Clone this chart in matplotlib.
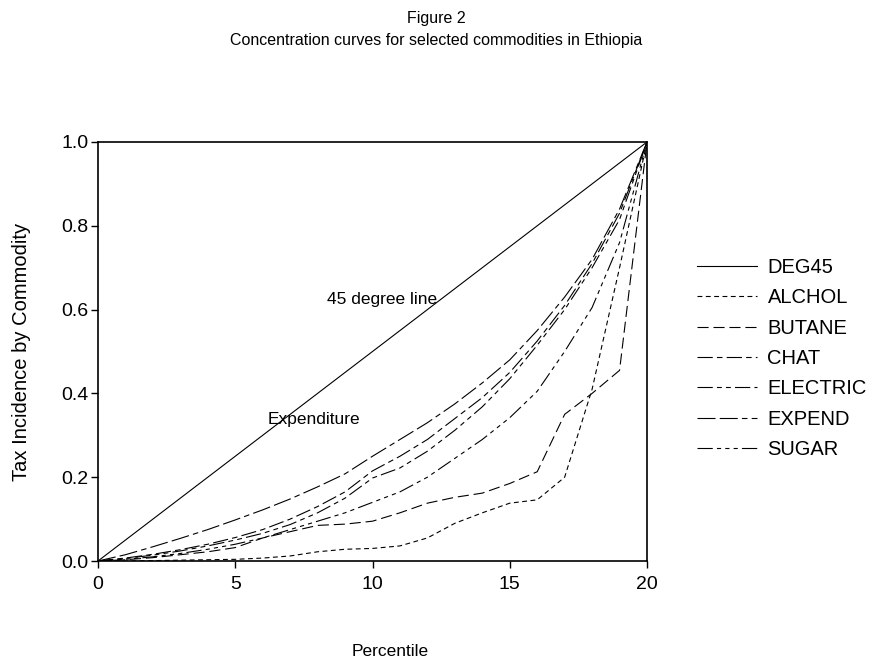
import matplotlib
matplotlib.use("Agg")
import matplotlib.pyplot as plt
import numpy as np

plt.rcParams['font.family'] = ['Liberation Sans', 'DejaVu Sans']
plt.rcParams['lines.scale_dashes'] = False

percentile = list(range(21))
deg45 = [i / 20 for i in range(21)]
alchol = [0, 0.0, 0.001, 0.002, 0.003, 0.004, 0.007, 0.012, 0.022, 0.028, 0.030,
          0.036, 0.055, 0.090, 0.115, 0.138, 0.146, 0.200, 0.410, 0.700, 1.0]
butane = [0, 0.003, 0.008, 0.015, 0.022, 0.032, 0.055, 0.070, 0.085, 0.088, 0.095,
          0.115, 0.138, 0.152, 0.162, 0.185, 0.213, 0.350, 0.400, 0.455, 1.0]
chat = [0, 0.007, 0.016, 0.027, 0.040, 0.056, 0.075, 0.100, 0.130, 0.165, 0.215,
        0.250, 0.290, 0.340, 0.390, 0.450, 0.525, 0.610, 0.710, 0.830, 1.0]
electric = [0, 0.006, 0.014, 0.024, 0.036, 0.050, 0.066, 0.087, 0.115, 0.150, 0.198,
            0.222, 0.262, 0.312, 0.368, 0.435, 0.515, 0.600, 0.700, 0.815, 1.0]
expend = [0, 0.015, 0.034, 0.054, 0.075, 0.098, 0.122, 0.148, 0.177, 0.208, 0.250,
          0.290, 0.330, 0.375, 0.425, 0.480, 0.550, 0.630, 0.720, 0.840, 1.0]
sugar = [0, 0.004, 0.010, 0.018, 0.028, 0.040, 0.055, 0.075, 0.095, 0.115, 0.140,
         0.165, 0.200, 0.245, 0.290, 0.342, 0.405, 0.500, 0.605, 0.760, 1.0]

series_names = ["DEG45", "ALCHOL", "BUTANE", "CHAT", "ELECTRIC", "EXPEND", "SUGAR"]
series_values = [deg45, alchol, butane, chat, electric, expend, sugar]
styles = ['-',
          (0, (3.5, 2.5)),
          (0, (8, 3.5)),
          (0, (11, 3, 4, 3)),
          (0, (11, 3, 3.5, 3, 3.5, 3)),
          (0, (13, 3, 13, 3, 4, 3)),
          (0, (11, 3, 3, 3, 3, 3, 3, 3))]

xticks = [0, 5, 10, 15, 20]
yticks = [0.0, 0.2, 0.4, 0.6, 0.8, 1.0]

fig = plt.figure(figsize=(8.72, 6.6), dpi=100)
ax = fig.add_axes([98 / 872, 1 - 561 / 660, (647 - 98) / 872, (561 - 142) / 660])

for name, vals, ls in zip(series_names, series_values, styles):
    ax.plot(percentile, vals, color='black', lw=0.8, linestyle=ls, label=name)

ax.set_xlim(0, 20)
ax.set_ylim(0, 1)
ax.set_xticks(xticks)
ax.set_xticklabels([str(t) for t in xticks])
ax.set_yticks(yticks)
ax.set_yticklabels([f"{t:.1f}" for t in yticks])
ax.tick_params(direction='out', length=5, width=1, labelsize=14)
ax.tick_params(axis='y', pad=2)
ax.tick_params(axis='x', pad=6)
for s in ax.spines.values():
    s.set_linewidth(1.2)

ax.text(10.35, 0.623, "45 degree line", fontsize=12.5, ha='center', va='center')
ax.text(7.85, 0.337, "Expenditure", fontsize=12.5, ha='center', va='center')

fig.text(0.5, 1 - 18 / 660, "Figure 2", ha='center', va='center', fontsize=11.5)
fig.text(0.5, 1 - 40 / 660, "Concentration curves for selected commodities in Ethiopia",
         ha='center', va='center', fontsize=11.5)
fig.text(390 / 872, 1 - 651 / 660, "Percentile", ha='center', va='center', fontsize=12.5)
fig.text(22 / 872, 1 - 352 / 660, "Tax Incidence by Commodity", ha='center', va='center',
         fontsize=14.5, rotation=90)

leg = ax.legend(loc='center left', bbox_to_anchor=(697 / 872, 1 - 358.5 / 660),
                bbox_transform=fig.transFigure, frameon=False, fontsize=14.5,
                handlelength=3.0, handletextpad=0.5, labelspacing=0.56,
                borderpad=0, borderaxespad=0)

fig.savefig("out.png", dpi=100)
